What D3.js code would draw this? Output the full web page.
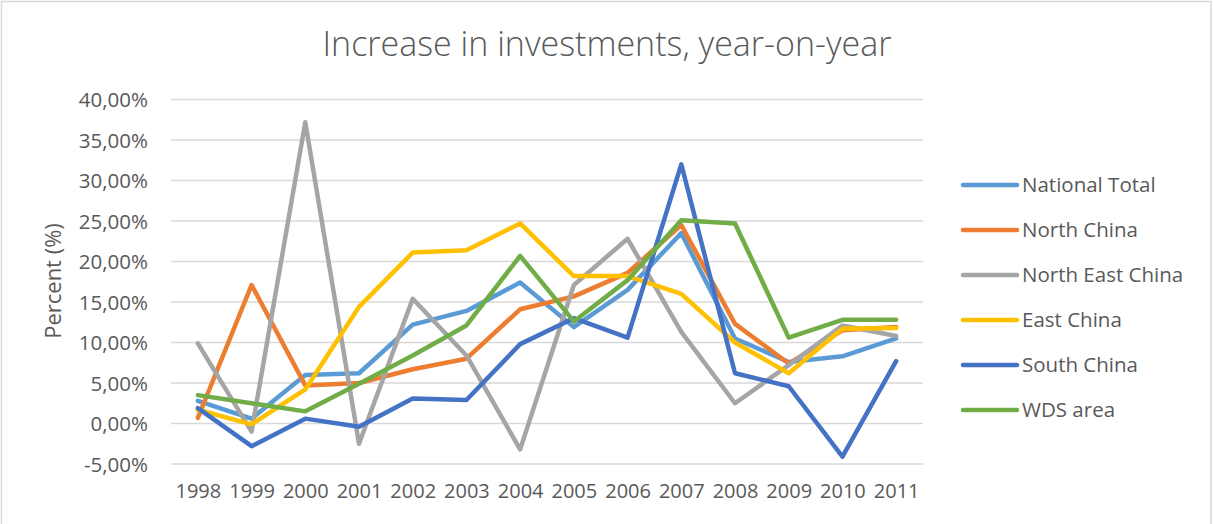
<!DOCTYPE html>
<html>
<head>
<meta charset="utf-8">
<script src="https://cdn.jsdelivr.net/npm/d3@7"></script>
<style>
  body { margin: 0; background: #fff; }
  text { font-family: "Open Sans", sans-serif; fill: #595959; }
</style>
</head>
<body>
<script>
var years = ["1998","1999","2000","2001","2002","2003","2004","2005","2006","2007","2008","2009","2010","2011"];
var yTicks = [-5, 0, 5, 10, 15, 20, 25, 30, 35, 40];

// percent values
var nationalTotal = [2.8, 0.6, 6.0, 6.2, 12.2, 13.9, 17.4, 11.9, 16.5, 23.5, 10.5, 7.6, 8.3, 10.5];
var northChina    = [0.7, 17.1, 4.7, 5.0, 6.7, 8.0, 14.1, 15.7, 18.6, 24.5, 12.3, 7.4, 11.5, 11.9];
var northEast     = [9.9, -1.0, 37.2, -2.5, 15.4, 8.4, -3.2, 17.1, 22.8, 11.3, 2.5, 7.2, 12.1, 10.8];
var eastChina     = [1.7, -0.1, 4.2, 14.4, 21.1, 21.4, 24.7, 18.2, 18.2, 16.0, 10.0, 6.2, 11.7, 11.8];
var southChina    = [1.9, -2.8, 0.6, -0.4, 3.1, 2.9, 9.8, 13.0, 10.6, 32.0, 6.2, 4.6, -4.1, 7.7];
var wdsArea       = [3.5, 2.5, 1.5, 4.9, 8.4, 12.1, 20.7, 12.6, 17.7, 25.1, 24.7, 10.6, 12.8, 12.8];

var seriesNames = ["National Total", "North China", "North East China", "East China", "South China", "WDS area"];
var seriesColors = ["#5B9BD5", "#ED7D31", "#A5A5A5", "#FFC000", "#4472C4", "#70AD47"];
var seriesValues = [nationalTotal, northChina, northEast, eastChina, southChina, wdsArea];

var w = 1213, h = 524;
var svg = d3.select("body").append("svg")
  .attr("width", w)
  .attr("height", h);

// chart border
svg.append("rect")
  .attr("x", 1.5).attr("y", 1.5)
  .attr("width", 1209.5).attr("height", 530)
  .attr("fill", "#fff")
  .attr("stroke", "#D9D9D9")
  .attr("stroke-width", 1.5);

var x = d3.scalePoint().domain(years).range([171, 923]).padding(0.5);
var y = d3.scaleLinear().domain([-5, 40]).range([464, 99.5]);

// gridlines
svg.append("g").selectAll("line")
  .data(yTicks)
  .join("line")
  .attr("x1", 171).attr("x2", 923)
  .attr("y1", d => y(d)).attr("y2", d => y(d))
  .attr("stroke", "#D9D9D9")
  .attr("stroke-width", 1.5);

// y axis
var fmt = d3.format(".2f");
var yAxis = svg.append("g")
  .attr("transform", "translate(148,0)")
  .call(d3.axisLeft(y).tickValues(yTicks).tickSize(0).tickPadding(0)
    .tickFormat(d => fmt(d).replace("\u2212", "-").replace(".", ",") + "%"));
yAxis.select(".domain").remove();
yAxis.selectAll("text")
  .attr("font-family", "Open Sans")
  .attr("font-size", 20.5)
  .attr("fill", "#595959")
  .attr("dy", "0.35em");

// x axis
var xAxis = svg.append("g")
  .attr("transform", "translate(0,484)")
  .call(d3.axisBottom(x).tickSize(0).tickPadding(0));
xAxis.select(".domain").remove();
xAxis.selectAll("text")
  .attr("font-family", "Open Sans")
  .attr("font-size", 20)
  .attr("fill", "#595959")
  .attr("dy", "0.71em");

// title
svg.append("text")
  .attr("x", 607).attr("y", 47)
  .attr("text-anchor", "middle")
  .attr("dominant-baseline", "middle")
  .attr("font-size", 34)
  .attr("font-weight", 300)
  .text("Increase in investments, year-on-year");

// y label
svg.append("text")
  .attr("transform", "translate(55,281) rotate(-90)")
  .attr("text-anchor", "middle")
  .attr("dominant-baseline", "middle")
  .attr("font-size", 22)
  .text("Percent (%)");

// lines
var line = d3.line()
  .x((d, i) => x(years[i]))
  .y(d => y(d));

svg.append("g").selectAll("path")
  .data(seriesValues)
  .join("path")
  .attr("d", d => line(d))
  .attr("fill", "none")
  .attr("stroke", (d, i) => seriesColors[i])
  .attr("stroke-width", 4.5)
  .attr("stroke-linejoin", "round")
  .attr("stroke-linecap", "round");

// legend
var legend = svg.append("g").selectAll("g")
  .data(seriesNames)
  .join("g")
  .attr("transform", (d, i) => "translate(962," + (185 + i * 45) + ")");
legend.append("line")
  .attr("x1", 1).attr("x2", 55)
  .attr("stroke", (d, i) => seriesColors[i])
  .attr("stroke-width", 4.5)
  .attr("stroke-linecap", "round");
legend.append("text")
  .attr("x", 60)
  .attr("dy", "0.35em")
  .attr("font-size", 20.5)
  .text(d => d);
</script>
</body>
</html>
